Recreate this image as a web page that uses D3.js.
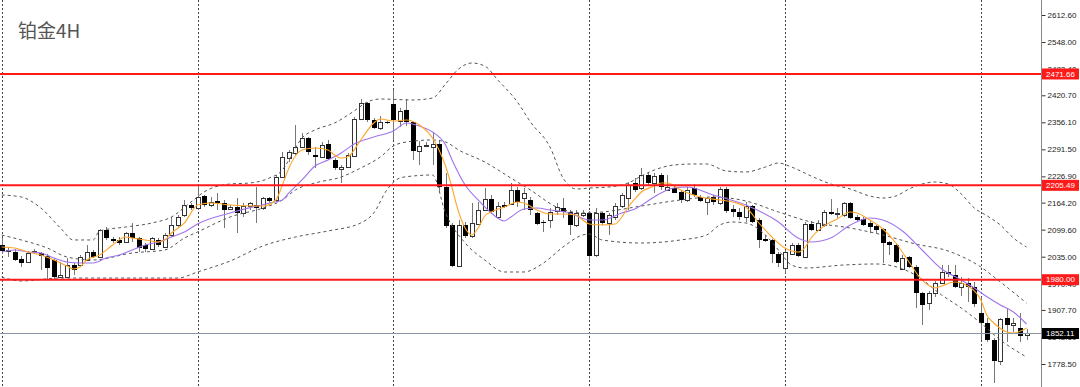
<!DOCTYPE html>
<html>
<head>
<meta charset="utf-8">
<script src="https://cdn.jsdelivr.net/npm/d3@7"></script>
<style>
body { margin: 0; background: #fff; }
svg { display: block; }
</style>
</head>
<body>
<div id="chart"></div>
<script>
var title = "铂金4H";

// 4H candles, left to right
var opens = [2062.9, 2048.6, 2046.2, 2029.4, 2022.3, 2045.0, 2043.8, 2036.6, 2027.1, 1986.4,
    1986.4, 2015.1, 2015.1, 2027.1, 2046.2, 2034.2, 2098.8, 2077.3, 2074.9, 2070.1,
    2091.6, 2079.6, 2062.9, 2053.4, 2074.9, 2058.1, 2086.8, 2110.7, 2134.6, 2158.5,
    2151.3, 2180.0, 2158.5, 2168.1, 2163.3, 2148.9, 2153.7, 2139.4, 2156.1, 2158.5,
    2151.3, 2175.2, 2170.5, 2225.4, 2270.8, 2282.8, 2297.1, 2318.6, 2278.0, 2273.2,
    2304.3, 2266.1, 2244.5, 2249.3, 2275.6, 2364.0, 2402.3, 2361.7, 2342.5, 2356.9,
    2399.9, 2359.3, 2385.6, 2356.9, 2287.6, 2299.5, 2297.1, 2304.3, 2201.5, 2110.7,
    2012.7, 2110.7, 2084.4, 2113.1, 2146.6, 2172.8, 2129.8, 2158.5, 2160.9, 2194.4,
    2175.2, 2170.5, 2139.4, 2117.9, 2122.7, 2144.2, 2151.3, 2141.8, 2110.7, 2134.6,
    2139.4, 2039.0, 2139.4, 2115.5, 2129.8, 2156.1, 2175.2, 2211.1, 2199.1, 2230.2,
    2211.1, 2230.2, 2194.4, 2199.1, 2189.6, 2170.5, 2199.1, 2177.6, 2165.7, 2177.6,
    2163.3, 2196.7, 2148.9, 2141.8, 2129.8, 2156.1, 2122.7, 2077.3, 2074.9, 2041.4,
    2007.9, 2041.4, 2062.9, 2034.2, 2113.1, 2098.8, 2110.7, 2141.8, 2138.2, 2134.6,
    2163.3, 2129.8, 2125.1, 2115.5, 2108.3, 2101.1, 2070.1, 2062.9, 2005.5, 2034.2,
    2010.3, 1948.2, 1924.3, 1948.2, 1972.1, 1998.4, 1991.2, 1962.5, 1972.1, 1962.5,
    1900.4, 1876.5, 1835.9, 1785.7, 1888.4, 1871.7, 1864.5, 1847.8];
var highs = [2079.6, 2058.1, 2053.4, 2036.6, 2048.6, 2053.4, 2046.2, 2041.4, 2031.8, 2022.3,
    2031.8, 2019.9, 2039.0, 2062.9, 2051.0, 2101.1, 2105.9, 2082.0, 2082.0, 2094.0,
    2115.5, 2082.0, 2067.7, 2082.0, 2079.6, 2091.6, 2129.8, 2134.6, 2170.5, 2163.3,
    2206.3, 2182.4, 2177.6, 2187.2, 2170.5, 2158.5, 2175.2, 2163.3, 2165.7, 2201.5,
    2177.6, 2177.6, 2230.2, 2285.2, 2290.0, 2349.7, 2330.6, 2321.0, 2297.1, 2309.1,
    2313.9, 2270.8, 2254.1, 2282.8, 2368.8, 2411.8, 2404.7, 2366.4, 2371.2, 2359.3,
    2433.4, 2390.3, 2411.8, 2356.9, 2311.5, 2309.1, 2333.0, 2313.9, 2235.0, 2115.5,
    2122.7, 2117.9, 2163.3, 2165.7, 2199.1, 2182.4, 2165.7, 2165.7, 2211.1, 2201.5,
    2199.1, 2177.6, 2141.8, 2122.7, 2151.3, 2163.3, 2175.2, 2146.6, 2146.6, 2146.6,
    2144.2, 2151.3, 2141.8, 2139.4, 2163.3, 2187.2, 2213.5, 2223.0, 2246.9, 2235.0,
    2235.0, 2235.0, 2230.2, 2203.9, 2194.4, 2201.5, 2208.7, 2182.4, 2177.6, 2182.4,
    2201.5, 2201.5, 2158.5, 2151.3, 2165.7, 2158.5, 2127.5, 2086.8, 2077.3, 2046.2,
    2051.0, 2067.7, 2067.7, 2117.9, 2120.3, 2122.7, 2146.6, 2172.8, 2151.3, 2165.7,
    2165.7, 2134.6, 2129.8, 2120.3, 2110.7, 2103.5, 2072.5, 2067.7, 2039.0, 2036.6,
    2015.1, 1950.6, 1953.0, 1976.9, 2015.1, 2015.1, 2015.1, 1986.4, 1984.0, 1974.5,
    1938.6, 1888.4, 1840.6, 1888.4, 1912.3, 1888.4, 1900.4, 1862.1];
var lows = [2041.4, 2034.2, 2024.7, 2010.3, 2019.9, 2041.4, 2003.2, 1979.3, 1981.6, 1984.0,
    1986.4, 1991.2, 2010.3, 2024.7, 2031.8, 2031.8, 2074.9, 2067.7, 2062.9, 2067.7,
    2070.1, 2046.2, 2046.2, 2051.0, 2058.1, 2055.7, 2082.0, 2105.9, 2129.8, 2146.6,
    2146.6, 2153.7, 2153.7, 2146.6, 2103.5, 2146.6, 2091.6, 2129.8, 2146.6, 2115.5,
    2146.6, 2163.3, 2165.7, 2223.0, 2261.3, 2278.0, 2294.7, 2278.0, 2246.9, 2270.8,
    2266.1, 2242.2, 2211.1, 2246.9, 2275.6, 2361.7, 2356.9, 2340.2, 2337.8, 2352.1,
    2313.9, 2344.9, 2347.3, 2266.1, 2254.1, 2297.1, 2254.1, 2192.0, 2103.5, 2010.3,
    2010.3, 2079.6, 2079.6, 2110.7, 2144.2, 2137.0, 2127.5, 2151.3, 2158.5, 2153.7,
    2146.6, 2134.6, 2110.7, 2094.0, 2103.5, 2134.6, 2127.5, 2086.8, 2105.9, 2129.8,
    2019.9, 2034.2, 2110.7, 2086.8, 2122.7, 2151.3, 2146.6, 2189.6, 2194.4, 2206.3,
    2187.2, 2194.4, 2194.4, 2187.2, 2163.3, 2165.7, 2177.6, 2165.7, 2134.6, 2158.5,
    2158.5, 2139.4, 2129.8, 2122.7, 2117.9, 2115.5, 2055.7, 2070.1, 2019.9, 2010.3,
    1996.0, 2039.0, 2034.2, 2031.8, 2096.4, 2096.4, 2105.9, 2134.6, 2127.5, 2129.8,
    2125.1, 2120.3, 2108.3, 2091.6, 2091.6, 2019.9, 2039.0, 2019.9, 2003.2, 2007.9,
    1912.3, 1871.7, 1907.6, 1938.6, 1969.7, 1986.4, 1960.1, 1941.0, 1926.7, 1914.7,
    1835.9, 1831.1, 1733.1, 1776.1, 1831.1, 1854.9, 1831.1, 1835.9];
var closes = [2048.6, 2051.0, 2027.1, 2019.9, 2043.8, 2048.6, 2036.6, 2007.9, 1986.4, 1991.2,
    2015.1, 2003.2, 2034.2, 2046.2, 2034.2, 2098.8, 2079.6, 2072.5, 2067.7, 2091.6,
    2079.6, 2055.7, 2053.4, 2079.6, 2062.9, 2086.8, 2110.7, 2129.8, 2158.5, 2151.3,
    2177.6, 2158.5, 2165.7, 2163.3, 2146.6, 2153.7, 2139.4, 2156.1, 2163.3, 2151.3,
    2175.2, 2168.1, 2225.4, 2273.2, 2285.2, 2297.1, 2318.6, 2285.2, 2274.4, 2301.9,
    2268.4, 2246.9, 2249.3, 2278.0, 2364.0, 2402.3, 2361.7, 2342.5, 2356.9, 2353.3,
    2361.7, 2383.2, 2356.9, 2287.6, 2299.5, 2301.9, 2304.3, 2201.5, 2108.3, 2012.7,
    2110.7, 2084.4, 2115.5, 2146.6, 2172.8, 2141.8, 2156.1, 2154.9, 2194.4, 2165.7,
    2187.2, 2146.6, 2113.1, 2114.3, 2141.8, 2153.7, 2141.8, 2110.7, 2139.4, 2139.4,
    2036.6, 2139.4, 2115.5, 2134.6, 2156.1, 2182.4, 2206.3, 2194.4, 2230.2, 2211.1,
    2227.8, 2201.5, 2201.5, 2187.2, 2170.5, 2194.4, 2182.4, 2168.1, 2175.2, 2165.7,
    2196.7, 2144.2, 2141.8, 2129.8, 2156.1, 2117.9, 2074.9, 2072.5, 2041.4, 2019.9,
    2046.2, 2062.9, 2036.6, 2113.1, 2098.8, 2115.5, 2141.8, 2137.0, 2139.4, 2163.3,
    2127.5, 2122.7, 2110.7, 2105.9, 2098.8, 2067.7, 2062.9, 2022.3, 2031.8, 2010.3,
    1948.2, 1919.5, 1948.2, 1972.1, 1998.4, 1993.6, 1962.5, 1972.1, 1962.5, 1921.9,
    1876.5, 1835.9, 1785.7, 1886.0, 1871.7, 1876.5, 1845.4, 1852.11];

// indicator readings: [bar index, price]
var fastMa = [[0,2058.1],[2,2055.7],[4,2046.2],[6,2039.0],[8,2027.1],[10,2012.7],[11,2005.5],[12,2010.3],[13,2027.1],[15,2039.0],[17,2062.9],[19,2082.0],[20,2079.6],[22,2074.9],[24,2070.1],[25,2074.9],[26,2091.6],[28,2115.5],[30,2158.5],[32,2163.3],[35,2158.5],[40,2156.1],[42,2170.5],[43,2206.3],[44,2246.9],[45,2275.6],[46,2290.0],[48,2294.7],[50,2290.0],[51,2278.0],[52,2270.8],[53,2273.2],[55,2313.9],[57,2354.5],[58,2364.0],[60,2359.3],[62,2361.7],[64,2349.7],[66,2318.6],[67,2290.0],[68,2251.7],[69,2199.1],[70,2141.8],[71,2103.5],[72,2086.8],[73,2103.5],[74,2132.2],[75,2141.8],[77,2153.7],[79,2165.7],[80,2163.3],[82,2146.6],[84,2137.0],[86,2137.0],[88,2134.6],[89,2122.7],[90,2113.1],[92,2110.7],[94,2113.1],[95,2129.8],[96,2153.7],[97,2172.8],[98,2189.6],[100,2203.9],[101,2211.1],[102,2211.1],[104,2194.4],[107,2177.6],[110,2170.5],[112,2165.7],[114,2153.7],[116,2115.5],[118,2082.0],[120,2055.7],[122,2046.2],[123,2055.7],[124,2079.6],[126,2108.3],[128,2125.1],[130,2141.8],[131,2139.4],[133,2122.7],[135,2101.1],[137,2067.7],[139,2022.3],[141,1979.3],[143,1960.1],[144,1964.9],[146,1974.5],[148,1964.9],[150,1931.5],[151,1893.2],[152,1876.5],[154,1855.0],[155,1852.5],[157,1864.5]];
var slowMa = [[0,2046.2],[2,2051.0],[4,2046.2],[6,2043.8],[8,2031.8],[10,2022.3],[12,2019.9],[14,2019.9],[16,2031.8],[18,2039.0],[20,2051.0],[22,2062.9],[24,2070.1],[26,2082.0],[28,2094.0],[30,2113.1],[35,2139.4],[41,2163.3],[43,2170.5],[44,2187.2],[46,2218.3],[48,2251.7],[50,2266.1],[52,2282.8],[54,2304.3],[57,2321.0],[60,2335.4],[62,2354.5],[64,2347.3],[66,2333.0],[68,2301.9],[69,2266.1],[71,2206.3],[73,2170.5],[75,2139.4],[77,2120.3],[78,2129.8],[80,2148.9],[82,2151.3],[84,2146.6],[87,2139.4],[90,2122.7],[92,2122.7],[95,2139.4],[97,2148.9],[99,2168.1],[101,2187.2],[103,2199.1],[105,2201.5],[109,2182.4],[114,2158.5],[119,2117.9],[122,2079.6],[124,2070.1],[127,2079.6],[130,2110.7],[133,2127.5],[135,2122.7],[138,2096.4],[141,2051.0],[144,2005.5],[147,1979.3],[149,1960.1],[151,1938.6],[153,1919.5],[155,1902.8],[157,1874.1]];
var bbUpper = [[0,2182.4],[3,2177.6],[6,2151.3],[9,2103.5],[11,2074.9],[14,2074.9],[15,2096.4],[19,2105.9],[23,2115.5],[26,2129.8],[29,2165.7],[31,2189.6],[35,2208.7],[38,2211.1],[41,2223.0],[43,2242.2],[44,2266.1],[46,2318.6],[48,2337.8],[51,2354.5],[54,2383.2],[56,2404.7],[58,2411.8],[63,2409.5],[66,2414.2],[68,2447.7],[70,2483.6],[72,2497.9],[74,2490.7],[76,2457.3],[79,2404.7],[81,2356.9],[84,2297.1],[86,2223.0],[88,2196.7],[90,2199.1],[93,2201.5],[96,2211.1],[98,2227.8],[100,2242.2],[103,2254.1],[106,2256.5],[108,2256.5],[111,2239.8],[114,2237.4],[117,2249.3],[119,2258.9],[121,2249.3],[124,2227.8],[127,2208.7],[130,2196.7],[133,2180.0],[135,2175.2],[137,2180.0],[139,2196.7],[141,2208.7],[143,2213.5],[145,2208.7],[147,2184.8],[149,2151.3],[151,2132.2],[153,2110.7],[155,2079.6],[157,2058.1]];
var bbMid = [[0,2086.8],[3,2074.9],[7,2055.7],[10,2034.2],[14,2027.1],[20,2043.8],[25,2051.0],[28,2079.6],[30,2094.0],[35,2129.8],[40,2151.3],[43,2170.5],[45,2194.4],[48,2211.1],[52,2225.4],[55,2246.9],[58,2273.2],[60,2299.5],[62,2309.1],[66,2313.9],[68,2309.1],[70,2290.0],[74,2261.3],[78,2223.0],[81,2194.4],[85,2153.7],[89,2139.4],[92,2141.8],[98,2156.1],[104,2170.5],[109,2177.6],[114,2168.1],[119,2141.8],[124,2117.9],[130,2103.5],[135,2086.8],[140,2065.3],[145,2048.6],[150,2010.3],[153,1974.5],[157,1924.3]];
var bbLower = [[0,1986.4],[3,1976.9],[9,1984.0],[14,1984.0],[20,1984.0],[27,1984.0],[30,1998.4],[35,2024.7],[40,2060.5],[45,2082.0],[50,2096.4],[55,2115.5],[57,2139.4],[59,2194.4],[61,2223.0],[63,2227.8],[66,2230.2],[68,2139.4],[71,2067.7],[74,2027.1],[77,1998.4],[80,1998.4],[83,2019.9],[86,2058.1],[89,2086.8],[90,2089.2],[92,2074.9],[98,2067.7],[104,2074.9],[108,2086.8],[110,2110.7],[112,2117.9],[114,2115.5],[117,2086.8],[119,2051.0],[121,2015.1],[123,2007.9],[129,2015.1],[134,2017.5],[140,1991.2],[144,1943.4],[147,1912.3],[150,1876.5],[153,1835.9],[157,1795.2]];

var priceTicks = [2612.60, 2548.00, 2483.40, 2420.70, 2356.10, 2291.50, 2226.90, 2164.20, 2099.60, 2035.00, 1970.40, 1907.70, 1843.10, 1778.50];
var weekStarts = [0, 30, 60, 90, 120, 150];
var levels = [2471.66, 2205.49, 1980.00];
var lastPrice = 1852.11;

var width = 1080, height = 387, axisX = 1041;
var labelFont = "'Liberation Sans', Arial, sans-serif";

var svg = d3.select("#chart").append("svg")
    .attr("width", width)
    .attr("height", height);

var x = d3.scaleLinear().domain([0, 157]).range([1.7, 1026.5]);
var y = d3.scaleLinear().domain([1778.5, 2612.6]).range([364, 15]);

function px(i) { return Math.round(x(i)) + 0.5; }

// week separators
svg.append("g").selectAll("line")
    .data(weekStarts)
    .enter().append("line")
    .attr("x1", px).attr("x2", px)
    .attr("y1", 0).attr("y2", height)
    .attr("stroke", "#444")
    .attr("stroke-dasharray", "2,2");

svg.append("text")
    .attr("x", 18).attr("y", 37.5)
    .attr("font-family", "'Noto Sans CJK SC', sans-serif")
    .attr("font-size", 19)
    .attr("fill", "#555")
    .text(title);

/*
 * candles
 */
var bars = svg.append("g");
opens.forEach(function(o, i) {
    var c = closes[i], cx = px(i);
    bars.append("line")
        .attr("x1", cx).attr("x2", cx)
        .attr("y1", y(highs[i])).attr("y2", y(lows[i]))
        .attr("stroke", "#777");
    var top = Math.round(y(Math.max(o, c))), bot = Math.round(y(Math.min(o, c)));
    if (c >= o) {
        bars.append("rect")
            .attr("x", cx - 2).attr("y", top + 0.5)
            .attr("width", 4).attr("height", Math.max(bot - top, 1))
            .attr("fill", "#fff").attr("stroke", "#333");
    } else {
        bars.append("rect")
            .attr("x", cx - 2.5).attr("y", top)
            .attr("width", 5).attr("height", Math.max(bot - top, 1))
            .attr("fill", "#000");
    }
});

/*
 * indicators
 */
var line = d3.line()
    .x(function(d) { return x(d[0]); })
    .y(function(d) { return y(d[1]); })
    .curve(d3.curveMonotoneX);

[bbUpper, bbMid, bbLower].forEach(function(s) {
    svg.append("path").attr("d", line(s))
        .attr("fill", "none").attr("stroke", "#555")
        .attr("stroke-dasharray", "3,3");
});
svg.append("path").attr("d", line(slowMa))
    .attr("fill", "none").attr("stroke", "#9f74ee").attr("stroke-width", 1.1);
svg.append("path").attr("d", line(fastMa))
    .attr("fill", "none").attr("stroke", "#ffa52a").attr("stroke-width", 1.1);

/*
 * price axis
 */
var axis = d3.axisRight(y)
    .tickValues(priceTicks)
    .tickFormat(d3.format(".2f"))
    .tickSize(4)
    .tickPadding(2);

var ag = svg.append("g")
    .attr("transform", "translate(" + (axisX + 0.5) + ",0)")
    .call(axis)
    .attr("font-family", labelFont)
    .attr("font-size", 8);
ag.select(".domain").remove();
ag.selectAll("line").attr("stroke", "#333");
ag.selectAll("text").attr("fill", "#222");

svg.append("line")
    .attr("x1", axisX + 0.5).attr("x2", axisX + 0.5)
    .attr("y1", 0).attr("y2", height)
    .attr("stroke", "#888");

// current price
var yl = Math.round(y(lastPrice)) + 0.5;
svg.append("line")
    .attr("x1", 0).attr("x2", axisX)
    .attr("y1", yl).attr("y2", yl)
    .attr("stroke", "#8a97a6");
svg.append("rect")
    .attr("x", axisX + 1).attr("y", yl - 5.5)
    .attr("width", 37).attr("height", 11)
    .attr("fill", "#000");
svg.append("text")
    .attr("x", axisX + 5).attr("y", yl).attr("dy", "0.35em")
    .attr("font-family", labelFont)
    .attr("font-size", 8).attr("fill", "#fff")
    .text(lastPrice.toFixed(2));

// support / resistance
var lv = svg.append("g").selectAll("g").data(levels).enter().append("g");
lv.append("line")
    .attr("x1", 0).attr("x2", axisX)
    .attr("y1", function(d) { return y(d); })
    .attr("y2", function(d) { return y(d); })
    .attr("stroke", "#ff1a1a").attr("stroke-width", 2);
lv.append("rect")
    .attr("x", axisX + 1)
    .attr("y", function(d) { return y(d) - 5.5; })
    .attr("width", 37).attr("height", 11)
    .attr("fill", "#ff1a1a");
lv.append("text")
    .attr("x", axisX + 5)
    .attr("y", function(d) { return y(d); })
    .attr("dy", "0.35em")
    .attr("font-family", labelFont)
    .attr("font-size", 8).attr("fill", "#fff")
    .text(function(d) { return d.toFixed(2); });
</script>
</body>
</html>
